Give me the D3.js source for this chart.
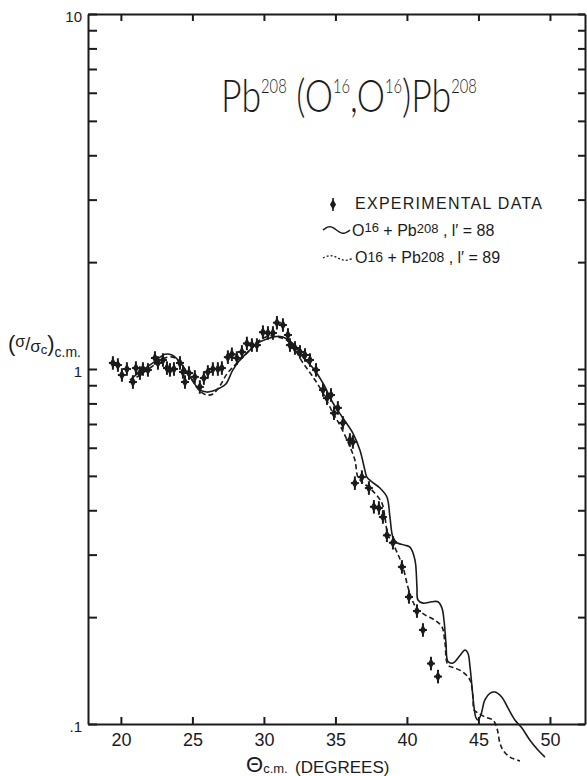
<!DOCTYPE html>
<html>
<head>
<meta charset="utf-8">
<script src="https://cdn.jsdelivr.net/npm/d3@7"></script>
<style>
  html, body { margin: 0; padding: 0; background: #fff; }
  svg { display: block; }
</style>
</head>
<body>
<svg id="chart" width="587" height="776"></svg>
<script>
// Elastic-scattering angular distribution, Pb208(O16,O16)Pb208

// Measured ratio to Rutherford, (sigma/sigma_c) c.m., versus theta c.m. (degrees)
const expTheta = [19.44,19.79,20.07,20.42,20.84,21.05,21.33,21.54,21.89,22.38,22.59,22.94,23.22,23.43,23.71,24.13,24.34,24.48,24.76,25.17,25.52,25.80,26.08,26.43,26.78,27.06,27.48,27.76,28.11,28.46,28.81,29.16,29.51,29.93,30.28,30.63,30.91,31.33,31.68,31.82,32.17,32.52,32.87,33.22,33.64,34.13,34.41,34.69,34.90,35.17,35.52,36.01,36.22,36.36,36.85,37.34,37.69,38.04,38.32,38.60,39.02,39.65,40.14,40.70,41.12,41.68,42.17];
const expValue = [1.04,1.026,0.962,1.0,0.919,1.006,0.974,1.0,0.994,1.074,1.04,1.06,1.006,0.994,1.0,1.04,0.981,0.919,0.974,0.95,0.89,0.943,0.981,1.0,1.0,1.006,1.08,1.10,1.074,1.117,1.18,1.168,1.168,1.27,1.263,1.263,1.35,1.33,1.247,1.168,1.146,1.117,1.095,1.06,0.994,0.873,0.828,0.845,0.751,0.777,0.705,0.631,0.623,0.477,0.496,0.462,0.409,0.406,0.383,0.34,0.324,0.277,0.228,0.208,0.184,0.148,0.136];
const relErr = 0.045;     // relative vertical error
const thetaErr = 0.28;    // angular half-width (degrees)

// Calculation, O16 + Pb208, l' = 88 (solid)
const c88Theta = [20.63,21.33,22.24,23.08,23.57,24.13,24.83,25.52,26.01,26.43,26.92,27.34,27.83,28.32,29.02,29.51,30.2,30.9,31.33,32.03,32.73,33.43,34.13,34.83,35.52,36.22,36.71,37.06,37.20,37.55,38.11,38.60,38.81,39.02,39.30,39.86,40.21,40.56,40.70,40.77,41.12,41.75,42.17,42.45,42.59,42.73,42.87,43.22,43.71,44.06,44.27,44.41,44.55,44.69,44.83,44.97,45.17,45.45,45.80,46.15,46.64,47.06,47.55,48.04,48.60,49.16,49.65];
const c88Value = [0.931,0.981,1.04,1.10,1.095,1.046,0.95,0.873,0.861,0.867,0.884,0.907,0.994,1.06,1.13,1.18,1.215,1.235,1.23,1.18,1.08,1.006,0.913,0.802,0.728,0.66,0.591,0.519,0.496,0.481,0.462,0.436,0.383,0.336,0.324,0.319,0.315,0.290,0.243,0.2235,0.219,0.221,0.221,0.212,0.196,0.169,0.150,0.1485,0.156,0.1616,0.158,0.1448,0.127,0.1116,0.104,0.1026,0.106,0.117,0.122,0.123,0.119,0.111,0.1026,0.0974,0.090,0.0845,0.0807];

// Calculation, O16 + Pb208, l' = 89 (dashed)
const c89Theta = [20.63,21.33,22.24,23.08,23.64,24.2,24.9,25.52,26.01,26.43,26.92,27.41,27.97,28.53,29.16,29.72,30.42,30.98,31.47,31.96,32.73,33.43,34.13,34.83,35.31,35.87,36.36,36.57,36.85,37.55,38.25,38.46,38.67,38.95,39.30,39.72,40.07,40.42,40.70,41.26,41.96,42.45,42.66,42.87,43.36,43.92,44.41,44.62,44.69,44.97,45.45,46.01,46.29,46.50,46.71,47.20,47.90];
const c89Value = [0.919,0.962,1.02,1.074,1.08,1.033,0.943,0.867,0.845,0.85,0.896,0.968,1.026,1.08,1.146,1.207,1.239,1.23,1.215,1.168,1.04,0.95,0.856,0.751,0.695,0.623,0.554,0.496,0.481,0.456,0.419,0.383,0.3405,0.326,0.305,0.277,0.243,0.221,0.211,0.203,0.196,0.1876,0.169,0.1466,0.1438,0.140,0.133,0.119,0.1095,0.1074,0.1047,0.1026,0.0974,0.0884,0.0845,0.0807,0.0787];

// Axis ticks
const thetaTicks = [20, 25, 30, 35, 40, 45, 50];
const yMajor = [0.1, 1, 10];
const yMajorLabels = [".1", "1", "10"];
const yMinor = [0.2,0.3,0.4,0.5,0.6,0.7,0.8,0.9,2,3,4,5,6,7,8,9];

const ink = "#1b1b1b";
const svg = d3.select("#chart");

const x = d3.scaleLinear().domain([17.7, 52.45]).range([88, 585]);
const y = d3.scaleLog().domain([0.1, 10]).range([724, 14]);

const labelFont = "Liberation Sans, Arial, sans-serif";

function styleAxis(g) {
  g.select(".domain").attr("stroke", ink).attr("stroke-width", 2);
  g.selectAll(".tick line").attr("stroke", ink).attr("stroke-width", 2);
  g.selectAll(".tick text").attr("fill", ink).attr("font-family", labelFont);
}

// bottom axis
svg.append("g")
  .attr("transform", `translate(0,${y(0.1)})`)
  .call(d3.axisBottom(x).tickValues(thetaTicks).tickSize(-7).tickSizeOuter(0).tickPadding(9).tickFormat(d3.format("d")))
  .call(styleAxis)
  .call(g => g.selectAll(".tick text").attr("font-size", 18));

// top axis
svg.append("g")
  .attr("transform", `translate(0,${y(10)})`)
  .call(d3.axisTop(x).tickValues(thetaTicks).tickSize(-7).tickSizeOuter(0).tickFormat(""))
  .call(styleAxis);

// left axis
const yLabel = d => { const i = yMajor.indexOf(d); return i >= 0 ? yMajorLabels[i] : ""; };
svg.append("g")
  .attr("transform", `translate(${x(17.7)},0)`)
  .call(d3.axisLeft(y).tickValues(yMajor.concat(yMinor)).tickSize(-9).tickSizeOuter(0).tickPadding(6).tickFormat(yLabel))
  .call(styleAxis)
  .call(g => g.selectAll(".tick text").attr("font-size", 15).attr("dy", "0.5em"));

// right axis
svg.append("g")
  .attr("transform", `translate(${x(52.45)},0)`)
  .call(d3.axisRight(y).tickValues(yMajor.concat(yMinor)).tickSize(-7).tickSizeOuter(0).tickFormat(""))
  .call(styleAxis);

// model curves
const line = d3.line()
  .x(d => x(d[0]))
  .y(d => y(d[1]))
  .curve(d3.curveCatmullRom.alpha(0.5));

svg.append("path")
  .datum(d3.zip(c88Theta, c88Value))
  .attr("d", line)
  .attr("fill", "none")
  .attr("stroke", ink)
  .attr("stroke-width", 1.6);

svg.append("path")
  .datum(d3.zip(c89Theta, c89Value))
  .attr("d", line)
  .attr("fill", "none")
  .attr("stroke", ink)
  .attr("stroke-width", 1.6)
  .attr("stroke-dasharray", "5,3");

// experimental points with error bars
const diamond = d3.symbol(d3.symbolDiamond, 32);
const pts = svg.append("g")
  .selectAll("g")
  .data(d3.zip(expTheta, expValue))
  .join("g");

pts.append("line")
  .attr("x1", d => x(d[0])).attr("x2", d => x(d[0]))
  .attr("y1", d => y(d[1] * (1 + relErr))).attr("y2", d => y(d[1] / (1 + relErr)))
  .attr("stroke", ink).attr("stroke-width", 2);
pts.append("line")
  .attr("x1", d => x(d[0] - thetaErr)).attr("x2", d => x(d[0] + thetaErr))
  .attr("y1", d => y(d[1])).attr("y2", d => y(d[1]))
  .attr("stroke", ink).attr("stroke-width", 2);
pts.append("path")
  .attr("d", diamond)
  .attr("transform", d => `translate(${x(d[0])},${y(d[1])})`)
  .attr("fill", ink);

// title
const title = svg.append("text")
  .attr("x", 221).attr("y", 112)
  .attr("font-family", "Lato, Open Sans, Liberation Sans, sans-serif")
  .attr("font-weight", 300)
  .attr("font-size", 46)
  .attr("fill", ink);
const titleParts = [["Pb",0],["208",1],[" (O",0],["16",1],[",O",0],["16",1],[")Pb",0],["208",1]];
let prevSup = 0;
titleParts.forEach(([t, sup]) => {
  const ts = title.append("tspan").text(t);
  if (sup) ts.attr("font-size", 19);
  const dy = (sup - prevSup) * -19;
  if (dy) ts.attr("dy", dy);
  prevSup = sup;
});
{
  const w = title.node().getBBox().width;
  const s = 256 / w;
  title.attr("transform", `translate(221,0) scale(${s},1) translate(-221,0)`);
}

// legend
const legend = svg.append("g").attr("font-family", labelFont).attr("fill", ink);
legend.append("line").attr("x1", 333).attr("x2", 333).attr("y1", 198).attr("y2", 211)
  .attr("stroke", ink).attr("stroke-width", 1.6);
legend.append("path").attr("d", diamond).attr("transform", "translate(333,204.5)").attr("fill", ink);
legend.append("text").attr("x", 355).attr("y", 209).attr("font-size", 16)
  .attr("textLength", 187).attr("lengthAdjust", "spacing").text("EXPERIMENTAL DATA");

const wave = d3.line().curve(d3.curveBasis);
const wavePts = (x0, x1, yc, amp) => d3.range(0, 1.0001, 0.1).map(t => [x0 + (x1 - x0) * t, yc - amp * Math.sin(t * 2 * Math.PI)]);
legend.append("path").attr("d", wave(wavePts(323, 350, 230, 3.5)))
  .attr("fill", "none").attr("stroke", ink).attr("stroke-width", 1.5);
legend.append("path").attr("d", wave(wavePts(323, 353, 258, 2.5)))
  .attr("fill", "none").attr("stroke", ink).attr("stroke-width", 1.3).attr("stroke-dasharray", "2,2");

const l2 = legend.append("text").attr("x", 352).attr("y", 236).attr("font-size", 16);
l2.append("tspan").text("O");
l2.append("tspan").text("16").attr("font-size", 13).attr("dy", -4);
l2.append("tspan").text(" + Pb").attr("dy", 4);
l2.append("tspan").text("208").attr("font-size", 13).attr("dy", -3);
l2.append("tspan").text(" , l′ = 88").attr("dy", 3);

const l3 = legend.append("text").attr("x", 355).attr("y", 263).attr("font-size", 16);
l3.append("tspan").text("O");
l3.append("tspan").text("16").attr("font-size", 14).attr("dy", -1);
l3.append("tspan").text(" + Pb").attr("dy", 1);
l3.append("tspan").text("208").attr("font-size", 14).attr("dy", -1);
l3.append("tspan").text(" , l′ = 89").attr("dy", 1);

// y-axis title: (sigma/sigma_c) c.m.
const yt = svg.append("text").attr("x", 8).attr("y", 351).attr("font-family", labelFont).attr("fill", ink).attr("font-size", 22);
yt.append("tspan").text("(");
yt.append("tspan").text("σ").attr("font-size", 16).attr("dy", -4);
yt.append("tspan").text("/").attr("font-size", 18).attr("dy", 3);
yt.append("tspan").text("σ").attr("font-size", 17).attr("dy", 2);
yt.append("tspan").text("c").attr("font-size", 13).attr("dy", 2);
yt.append("tspan").text(")").attr("dy", -3);
yt.append("tspan").text("c.m.").attr("font-size", 14).attr("dy", 6);

// x-axis title
const xt = svg.append("text").attr("x", 246).attr("y", 772).attr("font-family", labelFont).attr("fill", ink).attr("font-size", 22);
xt.append("tspan").text("Θ");
xt.append("tspan").text("c.m.").attr("font-size", 13).attr("dy", 1);
xt.append("tspan").text("(DEGREES)").attr("x", 295).attr("font-size", 17).attr("dy", 0);
</script>
</body>
</html>
